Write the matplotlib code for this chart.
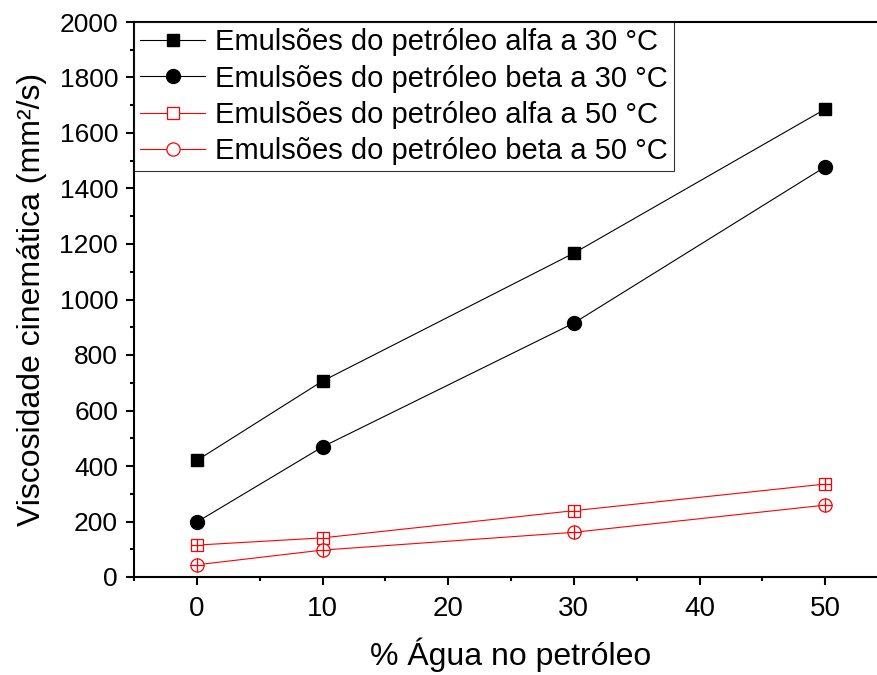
import matplotlib.pyplot as plt
from matplotlib.ticker import MultipleLocator

plt.rcParams['font.family'] = ['Liberation Sans', 'DejaVu Sans']

agua = [0, 10, 30, 50]
alfa_30 = [420, 706, 1167, 1686]
beta_30 = [198, 469, 915, 1478]
alfa_50 = [115, 141, 239, 335]
beta_50 = [44, 97, 161, 259]

labels = ['Emulsões do petróleo alfa a 30 °C',
          'Emulsões do petróleo beta a 30 °C',
          'Emulsões do petróleo alfa a 50 °C',
          'Emulsões do petróleo beta a 50 °C']

fig = plt.figure(figsize=(8.77, 6.75), dpi=100)
# right spine falls just outside the picture, as in the original
ax = fig.add_axes([134 / 877, 1 - 577 / 675, (888 - 134) / 877, (577 - 22) / 675])

ax.plot(agua, alfa_30, '-s', color='black', lw=0.8, ms=8.5, label=labels[0])
ax.plot(agua, beta_30, '-o', color='black', lw=0.8, ms=10, label=labels[1])
ax.plot(agua, alfa_50, '-s', color='red', lw=0.8, ms=8, mfc='white', mew=0.9, label=labels[2])
ax.plot(agua, beta_50, '-o', color='red', lw=0.8, ms=9.5, mfc='white', mew=0.9, label=labels[3])
# small error bars seen as crosses inside the open markers
ax.plot(agua, alfa_50, '+', color='red', ms=8, mew=0.9)
ax.plot(agua, beta_50, '+', color='red', ms=9.5, mew=0.9)

ax.set_xlim(-5, 55)
ax.set_ylim(0, 2000)
ax.xaxis.set_major_locator(MultipleLocator(10))
ax.xaxis.set_minor_locator(MultipleLocator(5))
ax.yaxis.set_major_locator(MultipleLocator(200))
ax.yaxis.set_minor_locator(MultipleLocator(100))
ax.tick_params(which='major', direction='out', length=5.5, width=1.5)
ax.tick_params(axis='x', pad=8, labelsize=20)
ax.tick_params(axis='y', pad=6, labelsize=19)
ax.tick_params(which='minor', direction='out', length=3, width=1.5)
ax.tick_params(top=False, right=False)
for s in ax.spines.values():
    s.set_linewidth(1.5)

ax.set_xlabel('% Água no petróleo', fontsize=23, labelpad=11)
ax.set_ylabel('Viscosidade cinemática (mm²/s)', fontsize=23, labelpad=9)

leg = ax.legend(loc='upper left', bbox_to_anchor=(0, 1), fontsize=21, frameon=True,
                fancybox=False, edgecolor='black', borderaxespad=0, handlelength=2.2,
                labelspacing=0.28, borderpad=0.22, handletextpad=0.35)
leg.get_frame().set_linewidth(0.8)

fig.savefig('out.png', dpi=100)
